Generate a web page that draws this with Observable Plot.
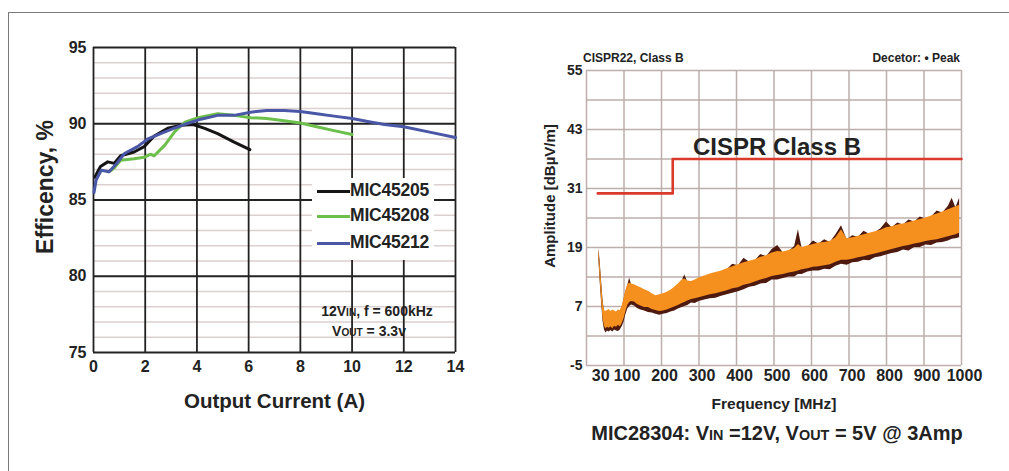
<!DOCTYPE html>
<html><head><meta charset="utf-8">
<script src="https://cdn.jsdelivr.net/npm/d3@7"></script>
<script src="https://cdn.jsdelivr.net/npm/@observablehq/plot@0.6"></script>
<style>
body{margin:0;background:#fff;font-family:"Liberation Sans",Arial,sans-serif;}
#wrap{position:relative;width:1009px;height:471px;overflow:hidden;background:#fff;}
#wrap svg{position:absolute;top:0;}
.abs{position:absolute;white-space:nowrap;font-weight:bold;color:#222;}
.sc{font-size:0.72em;}
.sw{display:inline-block;width:33px;height:3px;vertical-align:middle;margin-right:0;}
</style></head><body><div id="wrap"></div>
<script>
// ---------- Left chart: efficiency ----------
const effXTicks = [0, 2, 4, 6, 8, 10, 12, 14];
const effYTicks = [75, 80, 85, 90, 95];
const effMinorY = [76, 77, 78, 79, 81, 82, 83, 84, 86, 87, 88, 89, 91, 92, 93, 94];

const effX05 = [0.05, 0.27, 0.55, 0.8, 1.05, 1.57, 1.96, 2.35, 2.87, 3.4, 3.85, 4.3, 4.8, 5.44, 6.05];
const effY05 = [86.5, 87.2, 87.5, 87.4, 87.9, 88.15, 88.5, 89.2, 89.7, 89.9, 89.95, 89.7, 89.35, 88.8, 88.3];

const effX08 = [0.6, 0.8, 1.05, 1.57, 1.96, 2.2, 2.35, 2.76, 3.15, 3.54, 4.05, 4.8, 5.44, 6.08, 6.7, 7.37, 8.0, 8.63, 9.3, 10.0];
const effY08 = [86.85, 87.1, 87.6, 87.7, 87.8, 88.0, 87.9, 88.6, 89.5, 90.1, 90.4, 90.65, 90.55, 90.4, 90.35, 90.2, 90.05, 89.8, 89.55, 89.3];

const effX12 = [0.02, 0.1, 0.3, 0.6, 0.9, 1.2, 1.7, 2.1, 2.6, 3.1, 3.6, 4.15, 4.8, 5.44, 6.08, 6.7, 7.37, 8.0, 8.63, 9.3, 10.0, 10.6, 11.25, 12.0, 13.0, 14.0];
const effY12 = [85.5, 86.3, 86.95, 86.85, 87.4, 88.05, 88.5, 89.0, 89.35, 89.7, 90.0, 90.3, 90.55, 90.55, 90.76, 90.87, 90.87, 90.8, 90.65, 90.5, 90.35, 90.15, 89.95, 89.8, 89.45, 89.1];

const effSeries = ["MIC45205", "MIC45208", "MIC45212"];
const effColors = ["#151515", "#6dbf4b", "#4a56a6"];

// ---------- Right chart: EMI ----------
const emiXTicks = [30, 100, 200, 300, 400, 500, 600, 700, 800, 900, 1000];
const emiGridX = [0, 100, 200, 300, 400, 500, 600, 700, 800, 900, 1000];
const emiYTicks = [-5, 7, 19, 31, 43, 55];
const emiGridY = [-5, 1, 7, 13, 19, 25, 31, 37, 43, 49, 55];

const limitF = [30, 230, 230, 1000];
const limitDb = [30, 30, 37, 37];

const emiF = [33,36,40,44,48,52,56,60,65,70, 75,80,85,90,95,100,105,110,115,120, 128,136,145,155,165,175,185,195,205,215, 225,235,245,255,262,270,280,290,300,315, 330,345,360,375,390,405,420,435,450,465, 480,495,510,525,540,555,565,575,590,605, 620,635,650,665,680,695,710,725,740,755, 770,785,800,815,830,845,860,875,890,905, 920,935,950,965,975,985,995];
const orangeHi = [18.5,16,12,8,6.2,6.0,6.2,6.4,6.0,6.3, 6.1,5.9,6.3,6.2,7.0,8.6,10.2,11.4,11.8,11.6, 11.4,11.1,10.8,10.4,10.1,9.6,9.2,9.4,9.6,9.9, 10.3,10.9,11.6,12.4,12.6,12.2,12.1,12.4,12.8,13.2, 13.6,13.9,14.2,14.7,15.1,15.5,15.9,16.2,16.5,17.0, 17.3,17.9,18.2,18.1,18.4,18.8,19.6,19.0,19.3,19.6, 19.9,20.0,20.2,21.0,22.6,20.8,21.0,21.3,21.6,21.9, 22.2,22.5,23.0,23.2,23.6,23.8,24.1,24.4,24.7,25.0, 25.4,25.8,26.2,26.7,27.0,27.3,27.6];
const orangeLo = [17,13,8.5,4.5,3,2.4,2.8,2.6,2.9,2.5, 3.0,2.8,3.2,2.9,3.5,4.5,6.0,7.2,7.8,8.0, 7.9,7.4,7.1,6.8,6.8,6.4,6.2,6.0,6.1,6.3, 6.6,6.9,7.2,7.6,7.8,8.1,8.4,8.6,8.8,9.1, 9.4,9.6,9.9,10.2,10.6,10.8,11.3,11.6,12.0,12.4, 12.7,13.1,13.3,13.5,13.8,14.0,14.2,14.5,14.7,15.0, 15.1,15.3,15.5,16.0,16.4,16.4,16.6,16.9,17.1,17.4, 17.7,18.0,18.3,18.6,18.9,19.2,19.4,19.7,19.9,20.2, 20.4,20.6,20.9,21.2,21.4,21.6,21.9];
const darkHi = [18.8,16.5,12.4,8.3,6.0,5.8,6.0,6.2,5.8,6.1, 5.9,5.7,6.1,6.0,6.8,8.4,10.0,11.2,12.8,11.4, 11.2,10.9,10.6,10.2,9.9,9.4,9.0,9.2,9.4,9.7, 10.1,10.7,11.4,12.2,13.4,12.0,11.9,12.2,12.6,13.0, 13.4,13.7,14.0,14.5,15.6,15.3,16.8,16.0,16.3,17.6, 17.1,18.6,19.4,17.9,18.2,19.2,22.6,18.8,19.1,20.3, 19.7,20.6,20.0,21.6,23.4,20.6,21.4,21.1,22.3,21.7, 22.0,22.8,24.2,23.0,24.0,23.6,24.6,24.2,25.2,24.8, 25.2,26.4,26.0,27.4,29.0,27.1,29.0];
const darkLo = [16.5,12.5,8.0,4.0,2.2,1.6,2.0,1.8,2.1,1.8, 2.2,2.0,1.9,2.2,2.9,3.8,5.3,6.5,7.0,7.3, 7.1,6.6,6.3,6.1,5.8,5.7,5.4,5.2,5.4,5.6, 5.9,6.1,6.5,6.8,7.0,7.2,7.7,7.6,8.0,8.3, 8.6,8.7,9.1,9.4,9.7,10.0,10.4,10.9,11.1,11.6, 11.7,12.4,12.4,12.7,13.0,13.0,13.5,13.5,14.0,14.2, 14.2,14.6,14.5,15.2,15.6,15.4,15.9,16.0,16.4,16.3, 16.9,17.1,17.5,17.8,18.0,18.5,18.3,19.0,19.0,19.5, 19.4,19.9,20.0,20.3,20.7,20.8,21.0];

const FONT = "Liberation Sans, Arial, sans-serif";
const wrap = document.getElementById("wrap");

const left = Plot.plot({
  width: 500, height: 430,
  marginLeft: 93, marginRight: 45, marginTop: 47, marginBottom: 78,
  x: {domain: [0, 14]},
  y: {domain: [75, 95]},
  style: {fontFamily: FONT, fontWeight: "bold", fontSize: "16px", color: "#222", background: "transparent", overflow: "visible"},
  marks: [
    Plot.ruleY(effMinorY, {stroke: "#dccfcf", strokeWidth: 1.6}),
    Plot.ruleX(effXTicks, {stroke: "#222", strokeWidth: 1.8}),
    Plot.ruleY(effYTicks, {stroke: "#222", strokeWidth: 1.8}),
    Plot.line(effX05, {x: effX05, y: effY05, stroke: effColors[0], strokeWidth: 3}),
    Plot.line(effX08, {x: effX08, y: effY08, stroke: effColors[1], strokeWidth: 3}),
    Plot.line(effX12, {x: effX12, y: effY12, stroke: effColors[2], strokeWidth: 3}),
    Plot.axisX({ticks: effXTicks, tickSize: 0, tickPadding: 8, label: null, fontSize: 16, fontWeight: "bold", tickFormat: d => String(d)}),
    Plot.axisY({ticks: effYTicks, tickSize: 0, tickPadding: 7, label: null, fontSize: 16, fontWeight: "bold", tickFormat: d => String(d)}),
    Plot.text(["Output Current (A)"], {frameAnchor: "bottom", dy: 55, fontSize: 20.5, fontWeight: "bold", fill: "#222"}),
    Plot.text(["Efficency, %"], {frameAnchor: "left", textAnchor: "middle", rotate: -90, dx: -48, dy: -13, fontSize: 23, fontWeight: "bold", fill: "#222"})
  ]
});
left.style.left = "0px";
wrap.appendChild(left);

const right = Plot.plot({
  width: 509, height: 420,
  marginLeft: 86, marginRight: 48, marginTop: 70, marginBottom: 55,
  x: {domain: [0, 1000]},
  y: {domain: [-5, 55]},
  style: {fontFamily: FONT, fontWeight: "bold", fontSize: "14px", color: "#222", background: "transparent", overflow: "visible"},
  marks: [
    Plot.ruleX(emiGridX, {stroke: "#bcaeaa", strokeWidth: 1.5}),
    Plot.ruleY(emiGridY, {stroke: "#bcaeaa", strokeWidth: 1.5}),
    Plot.area(emiF, {x1: emiF, y1: darkLo, y2: darkHi, fill: "#4e1a10"}),
    Plot.area(emiF, {x1: emiF, y1: orangeLo, y2: orangeHi, fill: "#f5901f"}),
    Plot.line(limitF, {x: limitF, y: limitDb, stroke: "#d93a2b", strokeWidth: 2.6}),
    Plot.axisX({ticks: emiXTicks, tickSize: 0, tickPadding: 4, label: null, fontSize: 16, fontWeight: "bold", dx: 3, tickFormat: d => String(d)}),
    Plot.axisY({ticks: emiYTicks, tickSize: 0, tickPadding: 4, label: null, fontSize: 14, fontWeight: "bold", tickFormat: d => String(d)}),
    Plot.text(["Frequency [MHz]"], {frameAnchor: "bottom", dy: 43, fontSize: 15.5, fontWeight: "bold", fill: "#222"}),
    Plot.text(["Amplitude [dBµV/m]"], {frameAnchor: "left", textAnchor: "middle", rotate: -90, dx: -36, dy: -22, fontSize: 15, fontWeight: "bold", fill: "#222"})
  ]
});
right.style.left = "500px";
wrap.appendChild(right);

// ---------- overlays: frame, legend, annotations, titles ----------
function add(html, css) {
  const d = document.createElement("div");
  d.className = "abs";
  d.innerHTML = html;
  Object.assign(d.style, css);
  wrap.appendChild(d);
  return d;
}
add("", {left: "8px", top: "12px", width: "1001px", height: "0px", borderTop: "1.5px solid #7a7a7a"});
add("", {left: "8px", top: "12px", width: "0px", height: "459px", borderLeft: "1.5px solid #7a7a7a"});

// legend box
add("", {left: "312px", top: "178px", width: "122px", height: "82px", background: "#fff"});
const legendTops = [180, 205, 232];
effSeries.forEach((name, i) => {
  add(`<span class="sw" style="background:${effColors[i]}"></span>${name}`,
      {left: "317px", top: legendTops[i] + "px", fontSize: "17.5px", lineHeight: "20px", letterSpacing: "-0.2px"});
});

add(`12V<span class="sc">IN</span>, f = 600kHz`, {left: "377px", top: "303px", transform: "translateX(-50%)", fontSize: "14px", lineHeight: "16px"});
add(`V<span class="sc">OUT</span> = 3.3v`, {left: "369px", top: "323px", transform: "translateX(-50%)", fontSize: "14px", lineHeight: "16px"});

add("CISPR22, Class B", {left: "583px", top: "51px", fontSize: "12px", lineHeight: "14px"});
add("Decetor: • Peak", {right: "49px", top: "51px", fontSize: "12px", lineHeight: "14px"});
add("CISPR Class B", {left: "777px", top: "133px", transform: "translateX(-50%)", fontSize: "24px", lineHeight: "28px"});
add(`MIC28304: V<span class="sc">IN</span> =12V, V<span class="sc">OUT</span> = 5V @ 3Amp`,
    {left: "777px", top: "421px", transform: "translateX(-50%)", fontSize: "20px", lineHeight: "24px"});
</script>
</body></html>
